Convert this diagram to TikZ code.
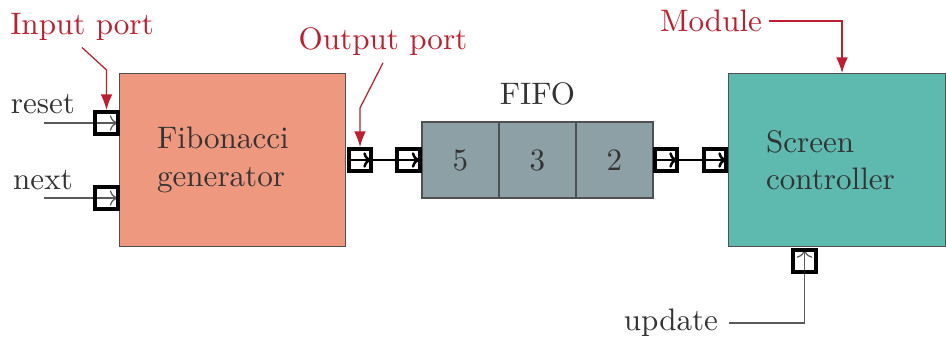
\documentclass[tikz,border=0pt]{standalone}
\usepackage{xcolor}
\usepackage{tikz}
\usetikzlibrary{arrows.meta,positioning,calc}
\definecolor{fibsalmon}{RGB}{239,152,128}
\definecolor{screenteal}{RGB}{94,185,174}
\definecolor{fifogray}{RGB}{141,160,166}
\definecolor{notered}{RGB}{190,30,45}
\definecolor{boxgray}{RGB}{80,80,80}
\definecolor{wiregray}{RGB}{90,90,90}

\begin{document}
\begin{tikzpicture}[
  x=0.0113cm, y=-0.0113cm,
  modbox/.style={draw=boxgray, thin, minimum height=1.96cm},
  modtext/.style={align=left, text=black!80},
  cell/.style={draw=boxgray, thin, fill=fifogray, minimum width=0.87cm, minimum height=0.86cm,
               outer sep=0pt, text=black!80},
  port/.style={draw=black, line width=1.3pt, fill=white, minimum size=0.25cm, inner sep=0pt,
               path picture={\draw[#1, -{To[length=2.5pt,width=5pt]}] (path picture bounding box.west)
                 -- (path picture bounding box.east);}},
  port/.default={line width=0.8pt},
  upport/.style={draw=black, line width=1.3pt, fill=white, minimum size=0.25cm, inner sep=0pt,
               path picture={\draw[thin, wiregray, -{To[length=2.5pt,width=5pt]}] (path picture bounding box.south)
                 -- (path picture bounding box.north);}},
  wire/.style={thin, draw=wiregray},
  link/.style={line width=0.8pt},
  note/.style={text=notered, inner sep=2pt},
  notearr/.style={draw=notered, thin, -{Latex[length=5pt]}}
]
\useasboundingbox (0,0) rectangle (946,340);

% modules
\node[modbox, fill=fibsalmon, minimum width=2.56cm] (fib) at (232.5,160) {};
\node[modbox, fill=screenteal, minimum width=2.46cm] (scr) at (837,160) {};
\node[modtext, right=0.31cm of fib.west] (fibtxt) {Fibonacci\\generator};
\node[modtext, right=0.31cm of scr.west] (scrtxt) {Screen\\controller};

% fifo
\node[cell] (c5) at (460.5,160) {5};
\node[cell, right=0pt of c5] (c3) {3};
\node[cell, right=0pt of c3] (c2) {2};
\node[above=0.07cm of c3, text=black!80] (fifolbl) {FIFO};

% ports
\node[port={thin, wiregray}] (rst) at (106.5,123) {};
\node[port={thin, wiregray}] (nxt) at (106.5,198) {};
\node[port] (fout) at (360,160) {};
\node[port] (qin) at (408.5,160) {};
\node[port] (qout) at (666,160) {};
\node[port] (sin) at (715,160) {};
\node[upport] (upd) at (804.5,261) {};

% inputs
\coordinate (rstsrc) at (44,123);
\coordinate (nxtsrc) at (44,198);
\coordinate (updsrc) at (729,323);
\draw[wire] (rstsrc) -- (rst.west);
\draw[wire] (nxtsrc) -- (nxt.west);
\draw[wire] (updsrc) -| (upd.south);
\node[text=black!80] (rstlbl) at (43,104) {reset};
\node[text=black!80] (nxtlbl) at (43,180) {next};
\node[anchor=east, text=black!80] (updlbl) at (updsrc) {update};

% links
\draw[link] (fout.east) -- (qin.west);
\draw[link] (qout.east) -- (sin.west);

% notes
\node[note] (inlbl) at (82,27) {Input port};
\node[note] (outlbl) at (383,42) {Output port};
\node[note] (modlbl) at (711,21) {Module};
\coordinate (inbend) at (rst.north |- 0,70);
\coordinate (outbend) at (fout.north |- 0,108);
\coordinate (modtip) at (842,73);
\draw[notearr] (inlbl.south) -- (inbend) -- (rst.north);
\draw[notearr] (outlbl.south) -- (outbend) -- (fout.north);
\draw[notearr] (modlbl.east) -| (modtip);
\end{tikzpicture}
\end{document}
